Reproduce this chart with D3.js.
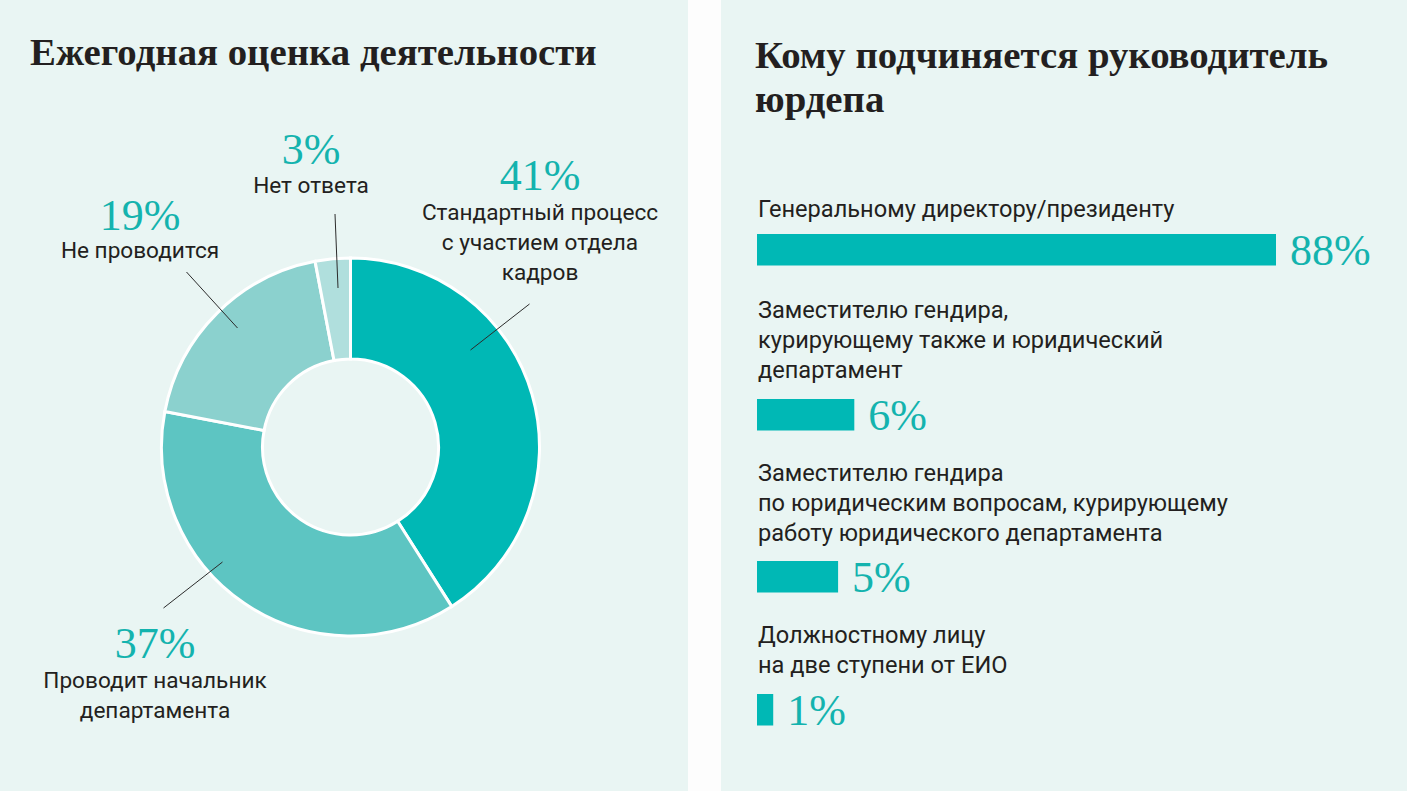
<!DOCTYPE html>
<html>
<head>
<meta charset="utf-8">
<script src="https://cdn.jsdelivr.net/npm/d3@7/dist/d3.min.js"></script>
<style>
  html, body { margin: 0; padding: 0; background: #fdfdfd; }
  svg { display: block; }
</style>
</head>
<body>
<svg id="chart" width="1407" height="791"></svg>
<script>
// ---------- data ----------
const leftTitle = "Ежегодная оценка деятельности";
const rightTitle = ["Кому подчиняется руководитель", "юрдепа"];

const donutCategories = [
  ["Стандартный процесс", "с участием отдела", "кадров"],
  ["Проводит начальник", "департамента"],
  ["Не проводится"],
  ["Нет ответа"]
];
const donutValues = [41, 37, 19, 3];
const donutColors = ["#00b8b5", "#5dc5c2", "#8bd1ce", "#b0dfdd"];

const barCategories = [
  ["Генеральному директору/президенту"],
  ["Заместителю гендира,", "курирующему также и юридический", "департамент"],
  ["Заместителю гендира", "по юридическим вопросам, курирующему", "работу юридического департамента"],
  ["Должностному лицу", "на две ступени от ЕИО"]
];
const barValues = [88, 6, 5, 1];

// ---------- layout ----------
const W = 1407, H = 791;
const svg = d3.select("#chart");
const teal = "#14b3ae";
const ink = "#231f20";
const panelFill = "#e9f5f3";
const sansFont = "Roboto, 'Open Sans', sans-serif";
const serifFont = "'Liberation Serif', 'DejaVu Serif', serif";

svg.append("rect").attr("x", 0).attr("y", 0).attr("width", W).attr("height", H).attr("fill", "#fdfdfd");
svg.append("rect").attr("x", 0).attr("y", 0).attr("width", 688).attr("height", H).attr("fill", panelFill);
svg.append("rect").attr("x", 721).attr("y", 0).attr("width", W - 721).attr("height", H).attr("fill", panelFill);

// titles
svg.append("text").attr("x", 30).attr("y", 65)
  .attr("font-family", serifFont).attr("font-weight", "bold").attr("font-size", 38.8)
  .attr("fill", ink).text(leftTitle);
svg.append("text").attr("x", 755).attr("y", 68)
  .attr("font-family", serifFont).attr("font-weight", "bold").attr("font-size", 38.8)
  .attr("fill", ink)
  .selectAll("tspan").data(rightTitle).join("tspan")
  .attr("x", 755).attr("dy", (d, i) => i === 0 ? 0 : 44).text(d => d);

// ---------- donut ----------
const cx = 350.5, cy = 447;
const outerR = 189, innerR = 88;
const g = svg.append("g").attr("transform", `translate(${cx},${cy})`);
const pie = d3.pie().sort(null).value(d => d);
const arcs = pie(donutValues);
const arc = d3.arc().innerRadius(innerR).outerRadius(outerR);
g.selectAll("path.slice").data(arcs).join("path")
  .attr("class", "slice")
  .attr("d", arc)
  .attr("fill", (d, i) => donutColors[i])
  .attr("stroke", "#ffffff")
  .attr("stroke-width", 3)
  .attr("stroke-linejoin", "miter");

// label layout per slice: leader line (relative to centre) and text anchor (absolute)
const donutLayout = [
  { line: [[120, -97], [179, -143]], tx: 540, pctY: 190, labY: 220 },
  { line: [[-128, 115], [-187, 161]], tx: 155, pctY: 658, labY: 688 },
  { line: [[-113, -119], [-164, -175]], tx: 140, pctY: 230, labY: 258 },
  { line: [[-12.5, -159], [-15.5, -233]], tx: 311, pctY: 164, labY: 193 }
];

g.selectAll("line.leader").data(arcs).join("line")
  .attr("class", "leader")
  .attr("x1", (d, i) => donutLayout[i].line[0][0])
  .attr("y1", (d, i) => donutLayout[i].line[0][1])
  .attr("x2", (d, i) => donutLayout[i].line[1][0])
  .attr("y2", (d, i) => donutLayout[i].line[1][1])
  .attr("stroke", "#2b2b2b").attr("stroke-width", 1);

const lbl = svg.append("g");
arcs.forEach((d, i) => {
  const L = donutLayout[i];
  lbl.append("text").attr("x", L.tx).attr("y", L.pctY)
    .attr("text-anchor", "middle")
    .attr("font-family", serifFont).attr("font-size", 44)
    .attr("fill", teal).text(donutValues[i] + "%");
  const t = lbl.append("text").attr("x", L.tx).attr("y", L.labY)
    .attr("text-anchor", "middle")
    .attr("font-family", sansFont).attr("font-size", 22.6)
    .attr("fill", ink);
  t.selectAll("tspan").data(donutCategories[i]).join("tspan")
    .attr("x", L.tx).attr("dy", (s, k) => k === 0 ? 0 : 30).text(s => s);
});

// ---------- bars ----------
const barX0 = 757;
const xScale = d3.scaleLinear().domain([0, 32]).range([0, 519]).clamp(true);
const barTop = [234, 399, 561, 694];
const barH = 31.5;
const labelFirstBaseline = [217, 318, 481, 643];

const bg = svg.append("g");
barValues.forEach((v, i) => {
  const t = bg.append("text").attr("x", 758).attr("y", labelFirstBaseline[i])
    .attr("font-family", sansFont).attr("font-size", 23.6).attr("fill", ink);
  t.selectAll("tspan").data(barCategories[i]).join("tspan")
    .attr("x", 758).attr("dy", (s, k) => k === 0 ? 0 : 30).text(s => s);
});
bg.selectAll("rect.bar").data(barValues).join("rect")
  .attr("class", "bar")
  .attr("x", barX0)
  .attr("y", (d, i) => barTop[i])
  .attr("width", d => xScale(d))
  .attr("height", barH)
  .attr("fill", "#00b8b5");
bg.selectAll("text.val").data(barValues).join("text")
  .attr("class", "val")
  .attr("x", d => barX0 + xScale(d) + 14)
  .attr("y", (d, i) => barTop[i] + barH - 1)
  .attr("font-family", serifFont).attr("font-size", 44)
  .attr("fill", teal).text(d => d + "%");
</script>
</body>
</html>
